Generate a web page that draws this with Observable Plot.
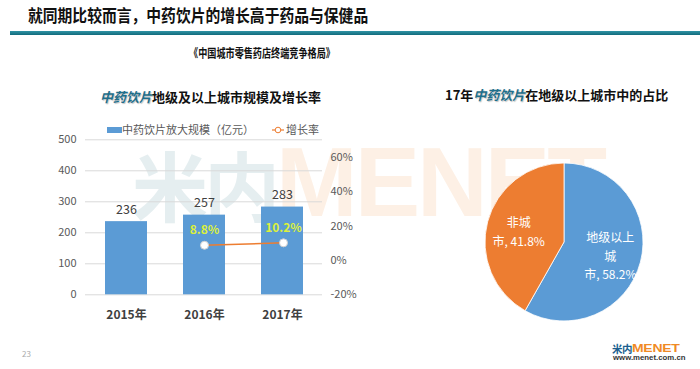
<!DOCTYPE html>
<html>
<head>
<meta charset="utf-8">
<script src="https://cdn.jsdelivr.net/npm/d3@7"></script>
<script src="https://cdn.jsdelivr.net/npm/@observablehq/plot@0.6"></script>
<style>
  html, body { margin: 0; padding: 0; background: #fff; }
  body { width: 700px; height: 369px; position: relative; overflow: hidden; font-family: "Noto Sans CJK SC", "Noto Sans", sans-serif; }
  .abs { position: absolute; white-space: nowrap; }
  .t-teal { color: #1f6f8b; font-style: italic; text-shadow: 1px 1px 1px rgba(0,0,0,0.25); }
  svg { overflow: visible; }
</style>
</head>
<body>
<div id="wm" class="abs" style="left:132px;top:133px;font-weight:bold;line-height:1;">
  <span style="color:#e5eef0;font-size:76px;letter-spacing:-4px;">米内</span><span style="color:#fdf0e5;font-family:'Liberation Sans',sans-serif;font-size:98px;letter-spacing:-3px;">MENET</span>
</div>
<div class="abs" style="left:28px;top:3px;font-size:17px;font-weight:bold;color:#111;transform:scaleX(0.87);transform-origin:left center;line-height:24px;">就同期比较而言，中药饮片的增长高于药品与保健品</div>
<div class="abs" style="left:10px;top:31px;width:690px;height:4px;background:linear-gradient(#2f93a5,#126b7c);"></div>
<div class="abs" style="left:262px;top:44px;font-size:12px;font-weight:bold;color:#111;transform:translateX(-50%) scaleX(0.76);line-height:17px;">《中国城市零售药店终端竞争格局》</div>
<div class="abs" style="left:100px;top:88px;font-size:13px;font-weight:bold;color:#111;line-height:18px;"><span class="t-teal">中药饮片</span>地级及以上城市规模及增长率</div>
<div class="abs" style="left:445px;top:86px;font-size:13px;font-weight:bold;color:#111;line-height:18px;">17年<span class="t-teal">中药饮片</span>在地级以上城市中的占比</div>
<div class="abs" style="left:107px;top:127px;width:15px;height:6px;background:#5b9bd5;"></div>
<div class="abs" style="left:122px;top:121px;font-size:11px;color:#595959;line-height:16px;">中药饮片放大规模（亿元）</div>
<svg class="abs" style="left:272px;top:125px;" width="12" height="10"><line x1="0" y1="5" x2="12" y2="5" stroke="#ed7d31" stroke-width="1.2"/><circle cx="6" cy="5" r="2.8" fill="#fff" stroke="#ed7d31" stroke-width="1"/></svg>
<div class="abs" style="left:286px;top:121px;font-size:11px;color:#595959;line-height:16px;">增长率</div>
<div id="bars" class="abs" style="left:0;top:130px;"></div>
<div id="line" class="abs" style="left:0;top:130px;"></div>
<div id="pie" class="abs" style="left:464px;top:142px;"></div>
<div class="abs" style="left:22px;top:349px;font-size:8px;color:#aaa;line-height:10px;">23</div>
<div class="abs" style="left:612px;top:343px;font-weight:bold;line-height:12px;color:#1b5f8f;font-size:10.5px;letter-spacing:-0.5px;">米内</div>
<div class="abs" style="left:632px;top:341px;font-weight:bold;line-height:14px;color:#f08a24;font-size:14px;font-family:'Liberation Sans',sans-serif;letter-spacing:-0.3px;transform:scaleY(0.72);transform-origin:left center;">MENET</div>
<div class="abs" style="left:613px;top:354px;font-size:7.8px;font-weight:bold;color:#333;font-family:'Liberation Sans',sans-serif;line-height:8px;">www.menet.com.cn</div>
<script>
const years = ["2015年", "2016年", "2017年"];
const scaleValues = [236, 257, 283];
const rateYears = ["2016年", "2017年"];
const rateValues = [8.8, 10.2];
const leftTicks = [0, 100, 200, 300, 400, 500];
const rightTicks = [-20, 0, 20, 40, 60];
const pieNames = ["地级以上城市", "非城市"];
const pieValues = [58.2, 41.8];
const pieText = ["地级以上\n城\n市, 58.2%", "非城\n市, 41.8%"];

const font = "'Noto Sans CJK SC', 'Noto Sans', sans-serif";
const bars = years.map((y, i) => ({year: y, value: scaleValues[i]}));
const rates = rateYears.map((y, i) => ({year: y, rate: rateValues[i]}));
const xOpts = {domain: years, paddingInner: 0.465, paddingOuter: 0.235, label: null};

document.getElementById("bars").append(Plot.plot({
  width: 370, height: 200,
  marginLeft: 85, marginRight: 48, marginTop: 9.3, marginBottom: 35.7,
  style: {background: "transparent", fontFamily: font, overflow: "visible"},
  x: xOpts,
  y: {domain: [0, 500], label: null},
  marks: [
    Plot.gridY(leftTicks, {stroke: "#d9d9d9", strokeOpacity: 1}),
    Plot.axisY(leftTicks, {tickSize: 0, tickPadding: 9, fontSize: 11, fill: "#595959", label: null}),
    Plot.barY(bars, {x: "year", y: "value", fill: "#5b9bd5"}),
    Plot.text(bars, {x: "year", y: "value", text: d => String(d.value), dy: -12, fontSize: 12.5, fill: "#404040"}),
    Plot.axisX({tickSize: 0, tickPadding: 16, fontSize: 12, fontWeight: "bold", fill: "#404040", label: null})
  ]
}));

document.getElementById("line").append(Plot.plot({
  width: 370, height: 200,
  marginLeft: 85, marginRight: 48, marginTop: 26.7, marginBottom: 35.7,
  style: {background: "transparent", fontFamily: font, overflow: "visible"},
  x: {...xOpts, axis: null},
  y: {domain: [-20, 60], label: null},
  marks: [
    Plot.axisY(rightTicks, {anchor: "right", tickSize: 0, tickPadding: 8, fontSize: 11, fill: "#595959", tickFormat: d => d + "%", label: null}),
    Plot.line(rates, {x: "year", y: "rate", stroke: "#ed7d31", strokeWidth: 1.5}),
    Plot.dot(rates, {x: "year", y: "rate", r: 4, fill: "#fff", stroke: "#d0d0d0", strokeWidth: 1}),
    Plot.text(rates, {x: "year", y: "rate", text: d => d.rate.toFixed(1) + "%", dy: -15, fontSize: 12, fontWeight: "bold", fill: "#dcf03a"})
  ]
}));

// pie
const total = d3.sum(pieValues);
let acc = 0;
const slices = pieNames.map((n, i) => {
  const a0 = acc / total * 2 * Math.PI;
  acc += pieValues[i];
  const a1 = acc / total * 2 * Math.PI;
  const mid = (a0 + a1) / 2;
  return {name: n, value: pieValues[i], a0, a1, label: pieText[i], lx: 0.6 * Math.sin(mid), ly: 0.6 * Math.cos(mid)};
});

document.getElementById("pie").append(Plot.plot({
  width: 200, height: 200,
  marginLeft: 21, marginRight: 21, marginTop: 21, marginBottom: 21,
  style: {background: "transparent", fontFamily: font, overflow: "visible"},
  x: {domain: [-1, 1], axis: null},
  y: {domain: [-1, 1], axis: null},
  color: {domain: pieNames, range: ["#5b9bd5", "#ed7d31"]},
  marks: [
    (index, scales) => {
      const cx = scales.x(0), cy = scales.y(0), R = scales.x(1) - scales.x(0);
      const g = d3.create("svg:g").attr("transform", `translate(${cx},${cy})`);
      const arc = d3.arc().innerRadius(0).outerRadius(R);
      g.selectAll("path").data(slices).join("path")
        .attr("d", d => arc({startAngle: d.a0, endAngle: d.a1}))
        .attr("fill", d => scales.color(d.name))
        .attr("stroke", "#fff").attr("stroke-width", 0.8);
      return g.node();
    },
    Plot.text(slices, {x: "lx", y: "ly", text: "label", fill: "#fff", fontSize: 12, lineHeight: 1.55})
  ]
}));
</script>
</body>
</html>
